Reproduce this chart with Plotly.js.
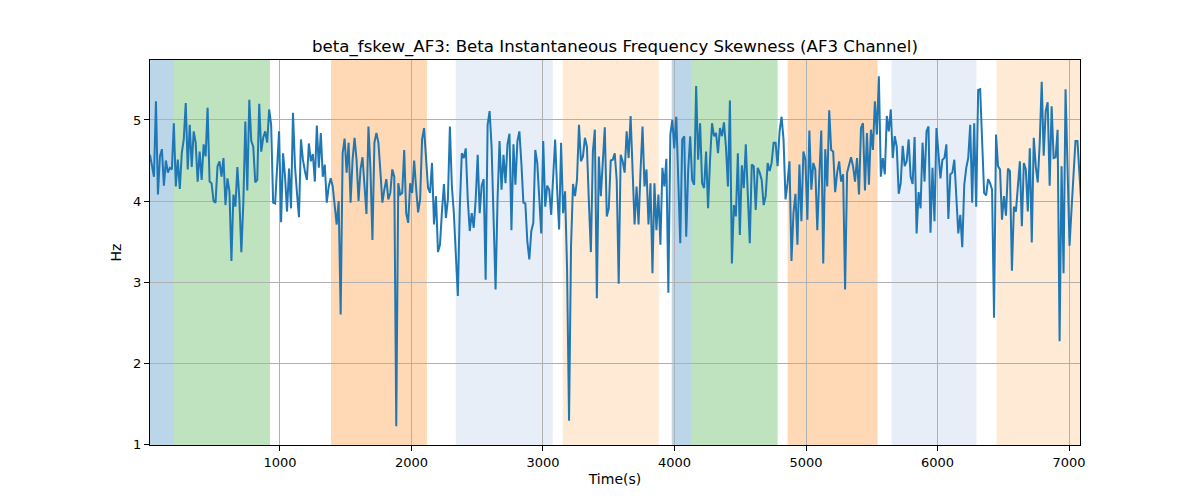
<!DOCTYPE html>
<html>
<head>
<meta charset="utf-8">
<script src="https://cdn.plot.ly/plotly-3.0.1.min.js"></script>
<style>html,body{margin:0;padding:0;background:#fff;}#chart{width:1200px;height:500px;}</style>
</head>
<body>
<div id="chart"></div>
<script>
// Sample timing (seconds): regular sampling
const startTime = 12;
const sampleStep = 15.1;

// Beta instantaneous frequency skewness values (Hz)
const skewValues = [
4.57,4.43,4.30,5.23,4.08,4.55,4.64,4.19,4.50,4.35,
4.41,4.39,4.96,4.18,4.51,4.15,4.59,4.76,5.21,4.39,
4.94,4.42,4.86,4.72,4.24,4.61,4.26,4.70,4.55,5.15,
4.24,4.22,4.00,3.98,4.43,4.49,4.30,4.53,3.95,4.28,
4.12,3.26,4.08,3.93,4.42,4.02,3.37,3.98,4.98,4.13,
5.25,4.74,4.67,4.23,4.26,5.20,4.61,4.78,4.86,
4.72,5.13,4.94,3.98,3.97,4.51,4.86,3.74,4.59,4.30,
3.87,4.40,3.91,5.09,4.43,4.10,3.80,4.76,4.51,4.37,
4.26,4.71,4.49,4.58,4.24,4.93,4.41,4.84,4.30,4.45,
3.98,4.18,4.28,4.18,3.91,3.71,4.00,2.60,4.59,4.77,
4.35,4.72,3.98,4.51,4.78,4.51,4.00,4.39,4.54,4.18,
3.84,4.92,4.39,3.52,4.72,4.84,4.72,4.37,3.98,4.14,
4.27,
4.02,4.10,4.39,4.30,1.22,4.22,4.08,4.10,4.63,3.85,3.73,
4.22,4.10,4.50,4.16,3.86,4.02,4.76,4.90,4.51,4.16,
4.10,4.47,3.71,4.06,3.37,3.46,3.87,4.21,3.79,4.02,
4.92,4.18,3.85,3.36,2.83,3.93,4.59,4.53,4.65,4.02,
3.63,3.85,3.67,4.02,4.57,3.85,4.19,4.27,3.03,4.94,
5.11,4.67,3.69,2.91,4.02,4.74,4.14,4.57,4.22,4.70,
4.83,
3.64,4.70,4.20,4.74,4.86,4.47,3.98,3.97,3.50,3.28,
3.63,3.73,4.63,4.47,3.98,3.60,4.74,3.93,4.19,4.14,
3.83,4.33,4.76,4.14,3.65,4.72,3.85,4.12,3.17,1.29,
3.44,4.21,4.06,4.26,4.94,4.49,4.55,4.78,4.67,3.98,
3.37,4.61,4.88,2.80,4.55,4.06,4.43,4.91,3.81,3.91,
4.50,4.51,4.59,4.26,2.98,4.57,4.49,4.35,4.86,4.53,
5.05,
4.43,3.71,4.18,3.71,4.37,4.92,4.18,4.39,3.71,4.22,
3.11,4.22,3.64,4.08,3.46,4.41,4.18,4.52,2.87,4.82,
5.00,4.65,5.04,4.16,3.48,4.76,4.80,3.56,4.39,4.80,
4.26,4.20,5.42,4.51,4.96,4.22,4.16,4.61,3.91,4.51,
4.96,4.80,4.84,4.59,4.90,4.80,4.97,4.67,4.18,5.24,
3.23,3.95,3.81,4.59,3.58,4.44,4.16,4.70,4.14,3.48,
4.45,
4.43,3.89,4.41,4.35,4.26,3.95,4.06,4.47,4.37,4.47,
4.72,4.72,4.43,4.86,5.04,4.76,4.02,4.22,4.49,3.26,
3.85,4.09,3.46,4.45,3.75,4.61,4.51,3.77,4.87,4.14,
4.47,4.39,3.64,4.30,4.87,3.23,4.64,4.18,5.12,4.63,
4.61,4.11,4.35,4.49,4.24,4.33,2.91,4.35,4.45,4.54,
4.43,4.24,4.53,4.08,4.90,4.96,4.13,4.84,4.20,4.88,
4.63,5.23,4.82,5.54,4.30,4.53,4.33,5.05,4.86,5.13,
4.53,4.80,4.67,4.09,4.22,4.68,4.43,4.49,4.76,4.30,
4.21,4.79,3.60,4.11,3.91,4.72,4.24,4.86,4.92,3.61,
4.41,3.75,4.90,4.59,4.28,4.51,4.53,4.70,3.78,4.33,
4.35,4.51,4.06,3.60,3.83,3.43,4.20,4.41,4.53,4.94,
3.98,4.96,3.93,5.37,5.38,4.80,4.10,4.07,4.27,4.22,
4.14,2.56,4.82,4.43,4.39,3.77,4.06,3.82,4.40,4.37,
3.14,3.93,3.87,4.18,4.49,3.69,4.47,4.39,3.87,4.65,
3.49,4.78,4.43,4.23,4.72,5.47,4.56,5.11,5.22,4.19,
5.17,4.53,4.54,4.88,2.27,4.43,3.11,5.38,4.35,3.45,
3.89,4.37,4.74,4.74,4.30,3.93
];

const timeValues = skewValues.map((_, i) => startTime + i * sampleStep);

// Shaded segments
const segStarts = [0, 194, 1388, 2337, 3150, 3979, 4131, 4860, 5650, 6448];
const segEnds   = [194, 924, 2117, 3074, 3880, 4131, 4784, 5544, 6296, 7100];
const segColors = ['#1f77b4', '#2ca02c', '#ff7f0e', '#aec7e8', '#ffbb78',
                   '#1f77b4', '#2ca02c', '#ff7f0e', '#aec7e8', '#ffbb78'];

const xTicks = [1000, 2000, 3000, 4000, 5000, 6000, 7000];
const yTicks = [1, 2, 3, 4, 5];

const shapes = segStarts.map((s, i) => ({
  type: 'rect', xref: 'x', yref: 'paper',
  x0: s, x1: segEnds[i], y0: 0, y1: 1,
  fillcolor: segColors[i], opacity: 0.3, line: {width: 0}, layer: 'below'
}));

const trace = {
  x: timeValues, y: skewValues, type: 'scatter', mode: 'lines',
  line: {color: '#1f77b4', width: 2}, hoverinfo: 'skip'
};

const layout = {
  width: 1200, height: 500,
  margin: {l: 150, r: 120, t: 60, b: 55},
  paper_bgcolor: '#fff', plot_bgcolor: 'rgba(0,0,0,0)',
  font: {family: 'DejaVu Sans', size: 14, color: '#000'},
  title: {text: 'beta_fskew_AF3: Beta Instantaneous Frequency Skewness (AF3 Channel)',
          font: {size: 16.6, color: '#000'}, x: 0.5, xref: 'paper', xanchor: 'center', y: 0.908, yanchor: 'middle'},
  showlegend: false,
  shapes: shapes,
  xaxis: {
    range: [12, 7083], tickvals: xTicks, ticktext: xTicks.map(String),
    showgrid: true, gridcolor: '#b0b0b0', gridwidth: 1,
    zeroline: false, showline: true, linecolor: '#000', linewidth: 1, mirror: true,
    ticks: 'outside', ticklen: 5, tickcolor: '#000',
    tickfont: {size: 13},
    title: {text: 'Time(s)', font: {size: 14}, standoff: 5},
    layer: 'above traces'
  },
  yaxis: {
    range: [0.99, 5.74], tickvals: yTicks, ticktext: yTicks.map(String),
    showgrid: true, gridcolor: '#b0b0b0', gridwidth: 1,
    zeroline: false, showline: true, linecolor: '#000', linewidth: 1, mirror: true,
    ticks: 'outside', ticklen: 5, tickcolor: '#000',
    tickfont: {size: 13},
    title: {text: 'Hz', font: {size: 14}, standoff: 8}
  }
};

Plotly.newPlot('chart', [trace], layout, {staticPlot: true, displayModeBar: false});
</script>
</body>
</html>
